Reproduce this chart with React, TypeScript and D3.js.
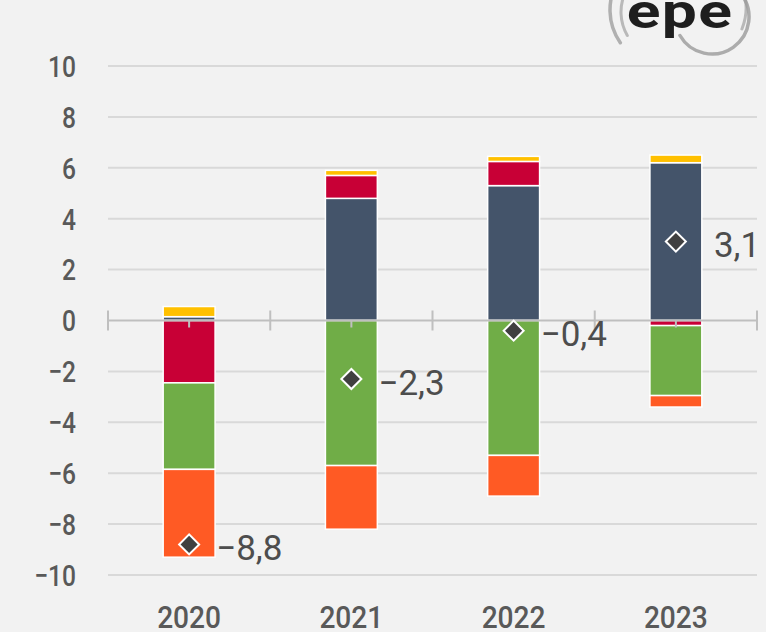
import React from "react";
import * as d3 from "d3";

const years = ["2020", "2021", "2022", "2023"];
// components of each year's stacked bar
const navyVals = [0.15, 4.8, 5.3, 6.2];
const redVals = [-2.45, 0.9, 0.95, -0.2];
const yellowVals = [0.4, 0.2, 0.2, 0.3];
const greenVals = [-3.4, -5.7, -5.3, -2.75];
const orangeVals = [-3.45, -2.5, -1.6, -0.45];
const totals = [-8.8, -2.3, -0.4, 3.1];
const totalLabels = ["−8,8", "−2,3", "−0,4", "3,1"];
const yTicks = [10, 8, 6, 4, 2, 0, -2, -4, -6, -8, -10];

const seriesKeys = ["navy", "red", "yellow", "green", "orange"];
const colors: Record<string, string> = {
  navy: "#44546A",
  red: "#C80036",
  yellow: "#FFC000",
  green: "#70AD47",
  orange: "#FF5A24",
};

const W = 766;
const H = 632;
const axisFont = "Roboto, sans-serif";
const fmt = d3.format("d");

// arc helper for the logo swirls
const arcPath = (cx: number, cy: number, r: number, a0: number, a1: number, sweep: number, large = 0) => {
  const p = (a: number) => [cx + r * Math.cos((a * Math.PI) / 180), cy + r * Math.sin((a * Math.PI) / 180)];
  const [x0, y0] = p(a0);
  const [x1, y1] = p(a1);
  return `M ${x0} ${y0} A ${r} ${r} 0 ${large} ${sweep} ${x1} ${y1}`;
};

const App = () => {
  const rows = years.map((yr, i) => ({
    year: yr,
    navy: navyVals[i],
    red: redVals[i],
    yellow: yellowVals[i],
    green: greenVals[i],
    orange: orangeVals[i],
  }));

  const stack = d3
    .stack<any>()
    .keys(seriesKeys)
    .offset(d3.stackOffsetDiverging);
  const layers = stack(rows);

  const x = d3
    .scaleBand()
    .domain(years)
    .range([108, 757])
    .paddingInner(0.68)
    .paddingOuter(0.34);
  const y = d3.scaleLinear().domain([-10, 10]).range([575, 66]);

  const step = x.step();
  const bw = x.bandwidth();
  const cx = (yr: string) => (x(yr) as number) + bw / 2;
  const boundaries = d3.range(years.length + 1).map((i) => 108 + i * step);

  const diamond = d3.symbol().type(d3.symbolSquare).size(200)();

  return (
    <svg
      width={W}
      height={H}
      style={{ position: "fixed", left: 0, top: 0, display: "block", background: "#F2F2F2" }}
    >
      <rect x={0} y={0} width={W} height={H} fill="#F2F2F2" />

      {/* logo */}
      <g fill="none" stroke="#9a9a9a" strokeLinecap="round">
        <path d={arcPath(667, 10, 57, 212, 145, 0)} strokeWidth={3.5} opacity={0.75} />
        <path d={arcPath(668, 12, 47, 205, 150, 0)} strokeWidth={3} opacity={0.65} />
        <path d={arcPath(712, 17, 37, 150, -40, 0, 1)} strokeWidth={3.5} opacity={0.8} />
        <path d={arcPath(690, 8, 56, -20, 22, 1)} strokeWidth={3} opacity={0.65} />
      </g>
      <text
        transform="translate(680,28) scale(1.3,1)"
        textAnchor="middle"
        fontFamily="Roboto, sans-serif"
        fontWeight={700}
        fontSize={48}
        letterSpacing={1}
        fill="#1e1e1e"
      >
        epe
      </text>

      {/* gridlines */}
      {yTicks
        .filter((t) => t !== 0)
        .map((t) => (
          <line key={t} x1={108} x2={757} y1={y(t)} y2={y(t)} stroke="#D9D9D9" strokeWidth={2} />
        ))}

      {/* y tick labels */}
      {yTicks.map((t) => (
        <text
          key={t}
          transform={`translate(76,${y(t)}) scale(0.82,1)`}
          dy="0.36em"
          textAnchor="end"
          fontFamily={axisFont}
          fontWeight={500}
          fontSize={30}
          fill="#595959"
        >
          {fmt(t)}
        </text>
      ))}

      {/* stacked bars */}
      {layers.map((layer) => (
        <g key={layer.key} fill={colors[layer.key]}>
          {layer.map((d, i) => {
            const y0 = y(Math.max(d[0], d[1]));
            const y1 = y(Math.min(d[0], d[1]));
            if (Math.abs(d[1] - d[0]) < 1e-9) return null;
            return (
              <rect
                key={i}
                x={x(years[i])}
                y={y0}
                width={bw}
                height={y1 - y0}
                stroke="#FFFFFF"
                strokeWidth={1.5}
              />
            );
          })}
        </g>
      ))}

      {/* zero axis */}
      <line x1={108} x2={757} y1={y(0)} y2={y(0)} stroke="#BFBFBF" strokeWidth={2} />
      {boundaries.map((bx, i) => (
        <line key={"b" + i} x1={bx} x2={bx} y1={y(0) - 10} y2={y(0) + 10} stroke="#BFBFBF" strokeWidth={2} />
      ))}
      {years.map((yr) => (
        <line key={"c" + yr} x1={cx(yr)} x2={cx(yr)} y1={y(0)} y2={y(0) + 7} stroke="#BFBFBF" strokeWidth={2} />
      ))}

      {/* totals */}
      {years.map((yr, i) => (
        <g key={"t" + yr}>
          <path
            d={diamond || ""}
            transform={`translate(${cx(yr)},${y(totals[i])}) rotate(45)`}
            fill="#404040"
            stroke="#FFFFFF"
            strokeWidth={2}
          />
          <text
            x={cx(yr) + 27 + (totals[i] >= 0 ? 11 : 0)}
            y={y(totals[i]) + 3}
            dy="0.36em"
            fontFamily="Roboto, sans-serif"
            fontSize={35}
            fill="#4D4D4D"
          >
            {totalLabels[i]}
          </text>
        </g>
      ))}

      {/* x labels */}
      {years.map((yr) => (
        <text
          key={"x" + yr}
          transform={`translate(${cx(yr)},628) scale(0.88,1)`}
          textAnchor="middle"
          fontFamily={axisFont}
          fontWeight={500}
          fontSize={32}
          fill="#595959"
        >
          {yr}
        </text>
      ))}
    </svg>
  );
};

export default App;
